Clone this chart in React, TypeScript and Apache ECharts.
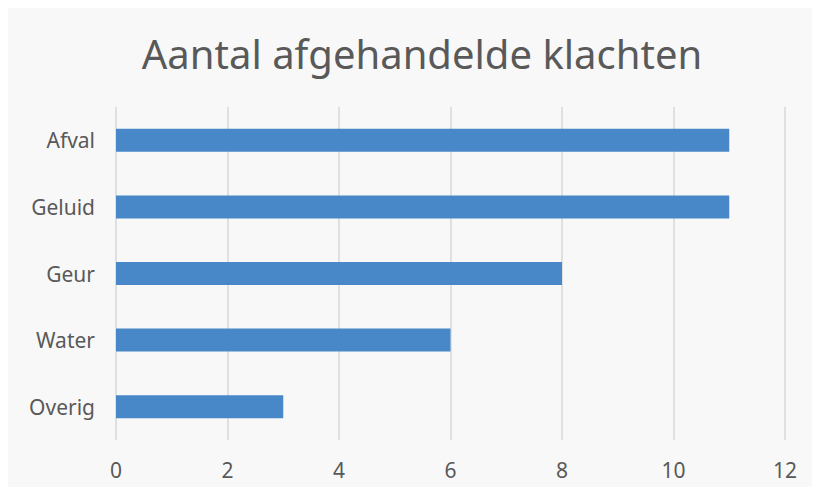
import React, { useEffect, useRef } from "react";
import * as echarts from "echarts";

const categories = ["Afval", "Geluid", "Geur", "Water", "Overig"];
const values = [11, 11, 8, 6, 3];
const titleText = "Aantal afgehandelde klachten";

export default function App() {
  const ref = useRef<HTMLDivElement>(null);
  useEffect(() => {
    if (!ref.current) return;
    const chart = echarts.init(ref.current, null, { renderer: "svg" });
    chart.setOption({
      animation: false,
      backgroundColor: "#f8f8f8",
      textStyle: { fontFamily: "Noto Sans" },
      title: {
        text: titleText,
        left: 409,
        top: 20,
        textAlign: "center",
        textStyle: { fontSize: 40, fontWeight: "normal", color: "#595959", fontFamily: "Noto Sans" },
      },
      grid: { left: 108, right: 27, top: 99, bottom: 47, containLabel: false },
      xAxis: {
        type: "value",
        min: 0,
        max: 12,
        interval: 2,
        axisLine: { show: false },
        axisTick: { show: false },
        axisLabel: { color: "#595959", fontSize: 21, margin: 19 },
        splitLine: { lineStyle: { color: "#d9d9d9", width: 1.5 } },
      },
      yAxis: {
        type: "category",
        data: categories,
        inverse: true,
        axisLine: { show: false },
        axisTick: { show: false },
        axisLabel: { color: "#595959", fontSize: 21, margin: 21 },
      },
      series: [
        {
          type: "bar",
          data: values,
          barWidth: 23,
          itemStyle: { color: "#4888c8" },
        },
      ],
    });
    return () => chart.dispose();
  }, []);
  return <div ref={ref} style={{ width: 804, height: 479 }} />;
}
